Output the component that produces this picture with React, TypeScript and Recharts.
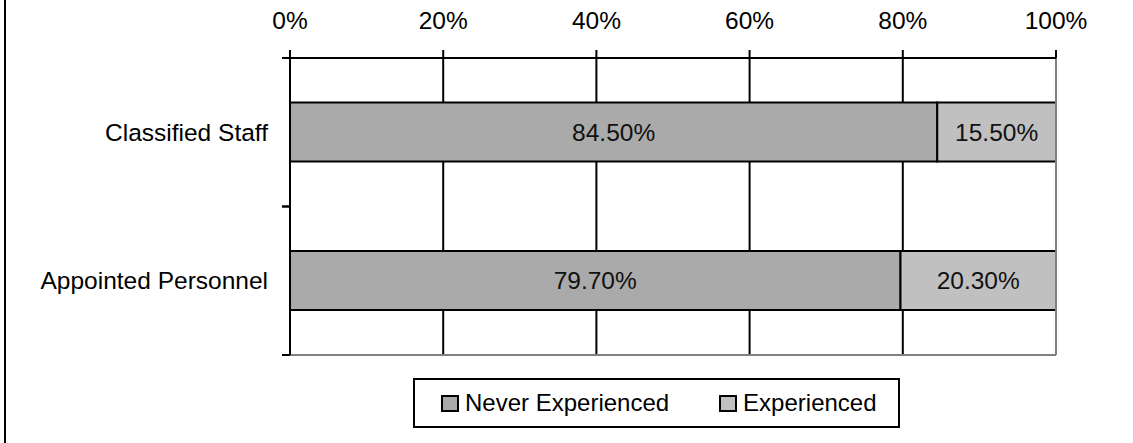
import React from 'react';
import {
  BarChart,
  Bar,
  XAxis,
  YAxis,
  CartesianGrid,
  ReferenceLine,
  Legend,
  LabelList,
} from 'recharts';

// Staff groups and their shares (percent)
const groups = ['Classified Staff', 'Appointed Personnel'];
const neverExperienced = [84.5, 79.7];
const experienced = [15.5, 20.3];
const percentTicks = [0, 20, 40, 60, 80, 100];

const series = [
  { key: 'never', name: 'Never Experienced', color: '#aaaaaa' },
  { key: 'experienced', name: 'Experienced', color: '#c0c0c0' },
];

const data = groups.map((name, i) => ({
  name,
  never: neverExperienced[i],
  experienced: experienced[i],
}));

const FONT = '"Liberation Sans", Arial, sans-serif';
const FONT_SIZE = 24.5;
const TICK_LEN = 8;

// Category label plus short tick marks at the edges of its band
const GroupTick = (props: any) => {
  const { x, y, payload, width, height, visibleTicksCount } = props;
  const axisX = props.x + props.tickMargin; // label x sits tickMargin left of the axis line
  const band = height / (visibleTicksCount || 1);
  return (
    <g>
      <line x1={axisX - TICK_LEN} x2={axisX} y1={y - band / 2} y2={y - band / 2} stroke="#000" strokeWidth={2} />
      <line x1={axisX - TICK_LEN} x2={axisX} y1={y + band / 2} y2={y + band / 2} stroke="#000" strokeWidth={2} />
      <text
        x={x}
        y={y}
        textAnchor="end"
        dominantBaseline="central"
        fill="#000"
        fontSize={FONT_SIZE}
        fontFamily={FONT}
      >
        {payload.value}
      </text>
    </g>
  );
};

const LegendBox = () => (
  <div
    style={{
      boxSizing: 'border-box',
      width: 487,
      height: 50,
      border: '2px solid #000',
      background: '#fff',
      display: 'flex',
      alignItems: 'center',
      fontFamily: FONT,
      fontSize: 24,
      color: '#000',
      paddingLeft: 26,
    }}
  >
    {series.map((s, i) => (
      <div key={s.key} style={{ display: 'flex', alignItems: 'center', marginRight: i === 0 ? 50 : 0 }}>
        <span
          style={{
            boxSizing: 'border-box',
            display: 'inline-block',
            width: 18,
            height: 17,
            border: '2px solid #000',
            background: s.color,
            marginRight: 6,
          }}
        />
        <span>{s.name}</span>
      </div>
    ))}
  </div>
);

export default function App() {
  return (
    <div style={{ position: 'absolute', left: 0, top: 0, width: 1133, height: 443, background: '#fff' }}>
      <div style={{ position: 'absolute', left: 4, top: 0, width: 2, height: 443, background: '#000' }} />
      <BarChart
        width={1133}
        height={443}
        data={data}
        layout="vertical"
        barCategoryGap="30%"
        margin={{ top: 0, right: 77, bottom: 87, left: 0 }}
      >
        <CartesianGrid xAxisId="top" yAxisId="cat" horizontal={false} stroke="#000" strokeWidth={2} />
        <XAxis
          xAxisId="top"
          type="number"
          orientation="top"
          domain={[0, 100]}
          ticks={percentTicks}
          tickFormatter={(v: number) => `${v}%`}
          height={58}
          tickSize={8}
          tickMargin={21}
          axisLine={{ stroke: '#000', strokeWidth: 2 }}
          tickLine={{ stroke: '#000', strokeWidth: 2 }}
          tick={{ fill: '#000', fontSize: FONT_SIZE, fontFamily: FONT }}
        />
        <XAxis
          xAxisId="bottom"
          type="number"
          orientation="bottom"
          domain={[0, 100]}
          ticks={percentTicks}
          height={1}
          tick={false}
          tickLine={false}
          axisLine={{ stroke: '#808080', strokeWidth: 2 }}
        />
        <YAxis
          yAxisId="cat"
          type="category"
          dataKey="name"
          width={290}
          tickLine={false}
          tickSize={0}
          tickMargin={22}
          axisLine={{ stroke: '#000', strokeWidth: 2 }}
          tick={<GroupTick tickMargin={22} />}
        />
        <ReferenceLine xAxisId="top" yAxisId="cat" x={100} stroke="#808080" strokeWidth={2} />
        <Legend
          layout="horizontal"
          verticalAlign="middle"
          content={() => <LegendBox />}
          wrapperStyle={{ left: 413, top: 378, width: 487, height: 50 }}
        />
        {series.map((s) => (
          <Bar
            key={s.key}
            xAxisId="top"
            yAxisId="cat"
            dataKey={s.key}
            name={s.name}
            stackId="share"
            fill={s.color}
            stroke="#000"
            strokeWidth={2}
            isAnimationActive={false}
          >
            <LabelList
              dataKey={s.key}
              position="center"
              formatter={(v: number) => `${v.toFixed(2)}%`}
              fill="#111"
              fontSize={FONT_SIZE}
              fontFamily={FONT}
            />
          </Bar>
        ))}
      </BarChart>
    </div>
  );
}
